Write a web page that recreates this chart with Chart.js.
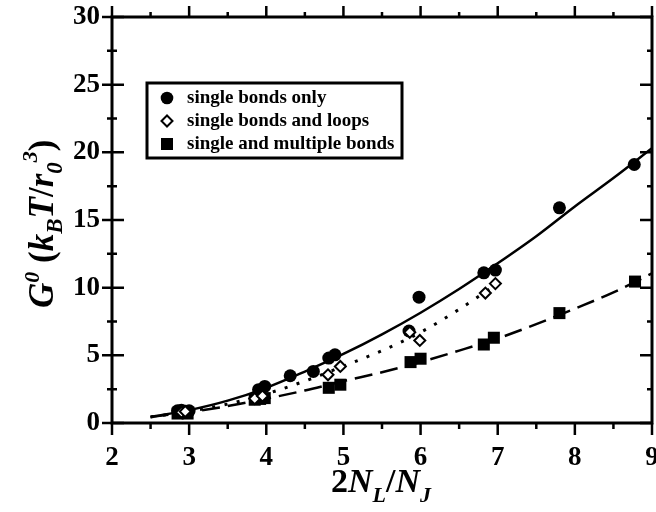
<!DOCTYPE html>
<html>
<head>
<meta charset="utf-8">
<script src="https://cdn.jsdelivr.net/npm/chart.js@4.4.1/dist/chart.umd.min.js"></script>
<style>
  html, body { margin: 0; padding: 0; background: #fff; }
</style>
</head>
<body>
<canvas id="chart" width="656" height="512"></canvas>
<script>
// measured points
const singleX = [2.85, 2.9, 2.95, 3.0, 3.9, 3.98, 4.31, 4.61, 4.81, 4.89, 5.85, 5.98, 6.82, 6.97, 7.8, 8.77];
const singleY = [0.9, 0.95, 0.85, 0.9, 2.46, 2.7, 3.49, 3.81, 4.8, 5.04, 6.8, 9.3, 11.1, 11.3, 15.9, 19.1];

const loopsX = [2.9, 2.95, 3.85, 3.95, 4.8, 4.96, 5.86, 5.99, 6.84, 6.97];
const loopsY = [0.8, 0.85, 1.8, 2.0, 3.56, 4.18, 6.7, 6.1, 9.6, 10.3];

const multiX = [2.85, 2.92, 2.98, 3.85, 3.92, 3.98, 4.81, 4.96, 5.87, 6.0, 6.82, 6.95, 7.8, 8.78];
const multiY = [0.7, 0.75, 0.7, 1.72, 1.78, 1.84, 2.6, 2.83, 4.5, 4.75, 5.8, 6.3, 8.12, 10.45];

// fitted curves
const fitX = [2.5, 3, 3.5, 4, 4.5, 5, 5.5, 6, 6.5, 7, 7.5, 8, 8.5, 9];
const singleFit = [0.45, 0.95, 1.65, 2.6, 3.8, 5.1, 6.55, 8.15, 9.9, 11.8, 13.8, 16.0, 18.1, 20.3];
const multiFit = [0.45, 0.8, 1.25, 1.8, 2.4, 3.1, 3.75, 4.5, 5.35, 6.25, 7.3, 8.45, 9.65, 11.05];
const loopFitX = [2.5, 3, 3.5, 4, 4.5, 5, 5.5, 6, 6.5, 7];
const loopFit = [0.45, 0.85, 1.4, 2.15, 3.1, 4.2, 5.35, 6.7, 8.4, 10.3];

const legendLabels = ["single bonds only", "single bonds and loops", "single and multiple bonds"];

const xyPairs = (xs, ys) => xs.map((v, i) => ({ x: v, y: ys[i] }));

const SERIF = "'Liberation Serif', 'Times New Roman', serif";

function drawRun(ctx, parts, x, y) {
  parts.forEach(p => {
    ctx.font = p.font;
    ctx.fillText(p.t, x, y + (p.dy || 0));
    x += ctx.measureText(p.t).width;
  });
}

const decorations = {
  id: "decorations",
  afterDraw(chart) {
    const { ctx, chartArea: a, scales: { x, y } } = chart;
    ctx.save();
    ctx.strokeStyle = "#000";
    ctx.fillStyle = "#000";

    // frame
    ctx.lineWidth = 3;
    ctx.strokeRect(a.left, a.top, a.right - a.left, a.bottom - a.top);

    // ticks
    ctx.lineWidth = 2.5;
    ctx.beginPath();
    for (let v = 2; v <= 9.001; v += 0.5) {
      const px = x.getPixelForValue(v);
      const major = Math.abs(v - Math.round(v)) < 1e-6;
      ctx.moveTo(px, a.bottom); ctx.lineTo(px, a.bottom + (major ? 12 : 6));
      ctx.moveTo(px, a.top); ctx.lineTo(px, a.top - (major ? 11 : 5));
    }
    for (let v = 0; v <= 30.001; v += 2.5) {
      const py = y.getPixelForValue(v);
      const major = Math.abs(v / 5 - Math.round(v / 5)) < 1e-6;
      ctx.moveTo(a.left - (major ? 10 : 5), py); ctx.lineTo(a.left + (major ? 12 : 5), py);
      ctx.moveTo(a.right, py); ctx.lineTo(a.right - (major ? 12 : 5), py);
    }
    ctx.stroke();

    // legend
    const lx = 147, ly = 83, lw = 255, lh = 75;
    ctx.fillStyle = "#fff";
    ctx.fillRect(lx, ly, lw, lh);
    ctx.lineWidth = 3;
    ctx.strokeRect(lx, ly, lw, lh);
    ctx.fillStyle = "#000";
    const rows = [98, 121, 144];
    const sx = 167;
    // circle
    ctx.beginPath(); ctx.arc(sx, rows[0], 6.3, 0, Math.PI * 2); ctx.fill();
    // diamond
    ctx.beginPath();
    ctx.moveTo(sx - 5.5, rows[1]); ctx.lineTo(sx, rows[1] - 5.5);
    ctx.lineTo(sx + 5.5, rows[1]); ctx.lineTo(sx, rows[1] + 5.5); ctx.closePath();
    ctx.fillStyle = "#fff"; ctx.fill();
    ctx.lineWidth = 2; ctx.stroke();
    ctx.fillStyle = "#000";
    // square
    ctx.fillRect(sx - 6, rows[2] - 6, 12, 12);
    ctx.font = "bold 19px " + SERIF;
    ctx.textBaseline = "middle";
    legendLabels.forEach((t, i) => ctx.fillText(t, 187, rows[i]));

    // axis titles
    ctx.textBaseline = "alphabetic";
    const B = s => "bold " + s + "px " + SERIF;
    const BI = s => "italic bold " + s + "px " + SERIF;
    drawRun(ctx, [
      { t: "2", font: B(34) },
      { t: "N", font: BI(34) },
      { t: "L", font: BI(22), dy: 10 },
      { t: "/", font: B(34) },
      { t: "N", font: BI(34) },
      { t: "J", font: BI(22), dy: 10 }
    ], 331, 492);

    ctx.save();
    ctx.translate(53, 308);
    ctx.rotate(-Math.PI / 2);
    drawRun(ctx, [
      { t: "G", font: BI(35) },
      { t: "0", font: BI(22), dy: -14 },
      { t: " (", font: B(35) },
      { t: "k", font: BI(35) },
      { t: "B", font: BI(23), dy: 9 },
      { t: "T", font: BI(35) },
      { t: "/", font: B(35) },
      { t: "r", font: BI(35) },
      { t: "0", font: BI(23), dy: 9 },
      { t: "3", font: BI(22), dy: -16 },
      { t: ")", font: B(35) }
    ], 0, 0);
    ctx.restore();

    ctx.restore();
  }
};

const tickFont = { family: SERIF, size: 27, weight: "bold" };

new Chart(document.getElementById("chart"), {
  type: "scatter",
  data: {
    datasets: [
      {
        label: legendLabels[1],
        data: xyPairs(loopsX, loopsY),
        pointStyle: "rectRot",
        pointRadius: 5.5,
        backgroundColor: "#fff",
        borderColor: "#000",
        borderWidth: 2,
        order: 0
      },
      {
        label: legendLabels[2],
        data: xyPairs(multiX, multiY),
        pointStyle: "rect",
        pointRadius: 8.5,
        backgroundColor: "#000",
        borderWidth: 0,
        order: 1
      },
      {
        label: legendLabels[0],
        data: xyPairs(singleX, singleY),
        pointStyle: "circle",
        pointRadius: 6.5,
        backgroundColor: "#000",
        borderWidth: 0,
        order: 2
      },
      {
        label: "single fit",
        data: xyPairs(fitX, singleFit),
        showLine: true,
        pointRadius: 0,
        borderColor: "#000",
        borderWidth: 2.5,
        cubicInterpolationMode: "monotone",
        order: 3
      },
      {
        label: "multiple fit",
        data: xyPairs(fitX, multiFit),
        showLine: true,
        pointRadius: 0,
        borderColor: "#000",
        borderWidth: 2.5,
        borderDash: [18, 8],
        cubicInterpolationMode: "monotone",
        order: 3
      },
      {
        label: "loops fit",
        data: xyPairs(loopFitX, loopFit),
        showLine: true,
        pointRadius: 0,
        borderColor: "#000",
        borderWidth: 3,
        borderDash: [3, 9.5],
        cubicInterpolationMode: "monotone",
        order: 3
      }
    ]
  },
  options: {
    responsive: false,
    animation: false,
    layout: { autoPadding: false, padding: { top: 17, right: 4, left: 0, bottom: 0 } },
    plugins: { legend: { display: false }, tooltip: { enabled: false } },
    scales: {
      x: {
        type: "linear",
        min: 2,
        max: 9,
        ticks: { stepSize: 1, color: "#000", font: tickFont, padding: 19, maxRotation: 0 },
        grid: { display: false, drawTicks: false },
        border: { display: false },
        afterFit(s) { s.height = 89; s.paddingLeft = 0; s.paddingRight = 0; }
      },
      y: {
        min: 0,
        max: 30,
        ticks: { stepSize: 5, color: "#000", font: tickFont, padding: 12 },
        grid: { display: false, drawTicks: false },
        border: { display: false },
        afterFit(s) { s.width = 112; s.paddingTop = 0; s.paddingBottom = 0; }
      }
    }
  },
  plugins: [decorations]
});
</script>
</body>
</html>
